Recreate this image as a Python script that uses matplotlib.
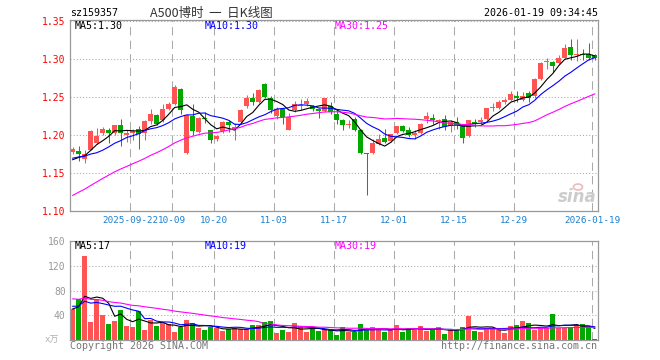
import numpy as np
import pandas as pd
import matplotlib
matplotlib.use('Agg')
import matplotlib.pyplot as plt
from matplotlib.patches import Ellipse

plt.rcParams['font.family'] = ['DejaVu Sans Mono', 'Noto Sans CJK SC']

# closes / volumes of the sessions before the first visible day (only seed the MAs)
pre_close = [1.050, 1.055, 1.060, 1.062, 1.068, 1.075, 1.082, 1.090, 1.105,
             1.098, 1.102, 1.108, 1.104, 1.112, 1.118, 1.115, 1.122, 1.128, 1.131,
             1.145, 1.158, 1.166, 1.178, 1.182, 1.175, 1.160, 1.165, 1.170, 1.162]
pre_vol = [85, 78, 92, 74, 80, 88, 72, 76, 81, 74, 70, 62, 68, 60, 72, 64, 66, 58, 67,
           63, 62, 58, 60, 55, 59, 48, 52, 46, 55]

# daily k-line, 2025-09-08 .. 2026-01-19
open_ = [1.178, 1.1795, 1.169, 1.1811, 1.190, 1.2035, 1.207, 1.2035, 1.2136, 1.2005,
         1.2035, 1.2079, 1.203, 1.2184, 1.2263, 1.2206, 1.235, 1.2417, 1.2614, 1.1768,
         1.2254, 1.2044, 1.2232, 1.2066, 1.1947, 1.2053, 1.2175, 1.2088, 1.2175, 1.239,
         1.2496, 1.2439, 1.268, 1.2496, 1.226, 1.2351, 1.2075, 1.2329, 1.2382, 1.2408,
         1.239, 1.2346, 1.232, 1.2382, 1.2276, 1.2206, 1.214, 1.2215, 1.2075, 1.1768,
         1.1768, 1.189, 1.1965, 1.1925, 1.2035, 1.2127, 1.2066, 1.2009, 1.2035, 1.2215,
         1.2228, 1.2184, 1.221, 1.2125, 1.2171, 1.2118, 1.1991, 1.2175, 1.2175, 1.221,
         1.2355, 1.2364, 1.2443, 1.246, 1.2522, 1.2469, 1.2557, 1.2513, 1.2737, 1.2961,
         1.2965, 1.2952, 1.3018, 1.3162, 1.3053, 1.3075, 1.3075, 1.3053]
high = [1.185, 1.1855, 1.180, 1.2066, 1.209, 1.211, 1.209, 1.2136, 1.221, 1.207,
        1.208, 1.2127, 1.2197, 1.234, 1.2285, 1.2408, 1.2439, 1.2658, 1.262, 1.2272,
        1.2408, 1.224, 1.2307, 1.2075, 1.2009, 1.2189, 1.2197, 1.2162, 1.2351, 1.2535,
        1.2557, 1.2614, 1.269, 1.2513, 1.237, 1.2364, 1.2294, 1.2452, 1.2474, 1.2491,
        1.2404, 1.2364, 1.2496, 1.2439, 1.2329, 1.2219, 1.2206, 1.2241, 1.2088, 1.1772,
        1.1956, 1.2022, 1.2079, 1.2022, 1.2127, 1.2132, 1.211, 1.2075, 1.2167, 1.2307,
        1.2276, 1.2215, 1.2263, 1.2195, 1.2237, 1.2127, 1.2206, 1.221, 1.2241, 1.2364,
        1.2425, 1.2461, 1.2496, 1.2579, 1.2579, 1.257, 1.2579, 1.2759, 1.2965, 1.3018,
        1.2974, 1.3062, 1.3197, 1.3263, 1.3263, 1.3132, 1.3215, 1.3075]
low = [1.176, 1.166, 1.164, 1.180, 1.189, 1.200, 1.190, 1.200, 1.1855, 1.1917,
       1.194, 1.1825, 1.194, 1.2153, 1.2132, 1.2175, 1.2338, 1.2395, 1.2285, 1.1759,
       1.200, 1.203, 1.2162, 1.190, 1.1925, 1.2035, 1.2044, 1.1943, 1.2153, 1.236,
       1.2395, 1.2425, 1.2496, 1.2294, 1.221, 1.2153, 1.2066, 1.2307, 1.2329, 1.2382,
       1.232, 1.2233, 1.2307, 1.2276, 1.2153, 1.2066, 1.2101, 1.2057, 1.1759, 1.1219,
       1.1759, 1.1868, 1.1899, 1.1912, 1.2022, 1.2044, 1.1978, 1.1947, 1.2022, 1.2162,
       1.2145, 1.2083, 1.2066, 1.2045, 1.2088, 1.1899, 1.1978, 1.211, 1.2153, 1.2197,
       1.232, 1.2351, 1.2417, 1.2452, 1.2439, 1.2452, 1.2439, 1.2496, 1.2724, 1.2877,
       1.2833, 1.2943, 1.3009, 1.2996, 1.2974, 1.2987, 1.2987, 1.2996]
close = [1.1825, 1.1748, 1.176, 1.2057, 1.1996, 1.2083, 1.2035, 1.2136, 1.2035, 1.2035,
         1.2057, 1.2013, 1.2184, 1.2285, 1.2145, 1.235, 1.2417, 1.2636, 1.2338, 1.2263,
         1.2057, 1.2228, 1.2215, 1.1934, 1.1991, 1.2175, 1.2132, 1.211, 1.2329, 1.2491,
         1.2439, 1.2601, 1.2505, 1.2338, 1.234, 1.2241, 1.2241, 1.2417, 1.2399, 1.2447,
         1.2346, 1.232, 1.2491, 1.2307, 1.2206, 1.2132, 1.2154, 1.2075, 1.1768, 1.1759,
         1.19, 1.1952, 1.1912, 1.2013, 1.2127, 1.2057, 1.2009, 1.2031, 1.2153, 1.225,
         1.2197, 1.2206, 1.211, 1.218, 1.214, 1.1965, 1.2197, 1.2145, 1.2197, 1.236,
         1.2364, 1.2439, 1.2469, 1.2548, 1.2491, 1.2513, 1.2496, 1.2737, 1.2952, 1.297,
         1.2908, 1.3018, 1.3149, 1.3053, 1.3062, 1.3062, 1.3018, 1.3018]
volume = [49.6, 66.7, 136, 28.8, 66, 40, 25.6, 31, 48, 22.4,
          20.8, 46.4, 16, 32, 22.4, 26.7, 25.6, 13.3, 20.3, 32,
          27.2, 19.7, 16, 21.3, 19.2, 14.4, 17.6, 18.7, 18, 18,
          24, 23.5, 28.3, 30.4, 11.2, 16, 13.3, 27.2, 20.3, 13.3,
          18.7, 14.4, 17, 16, 8, 20.8, 12.8, 12.8, 25.6, 16.5,
          20.8, 16.5, 12.8, 16.5, 24, 12.8, 19.2, 16.5, 22.4, 14.4,
          16.5, 20.8, 9.6, 16.5, 16.5, 20.8, 39, 14.4, 12.8, 19.2,
          19.2, 16.5, 11.2, 22.4, 24, 30.4, 27.2, 16.5, 19.2, 19.2,
          41.6, 19.2, 19.2, 20.8, 24, 25.6, 22.4, 1.6]

date_idx = [10, 17, 24, 34, 44, 54, 64, 74, 87]
date_labels = ['2025-09-22', '10-09', '10-20', '11-03', '11-17',
               '12-01', '12-15', '12-29', '2026-01-19']
price_ticks = [1.10, 1.15, 1.20, 1.25, 1.30, 1.35]
vol_ticks = [40, 80, 120, 160]

RED, GREEN = '#ff5454', '#00a800'
MA_COLORS = {5: '#000000', 10: '#0000ff', 30: '#ff00ff'}
GRIDC = '#aaaaaa'

W, H = 660, 360


def box(l, t, r, b):
    return [l / W, 1 - b / H, (r - l) / W, (b - t) / H]


def ftext(x, y, s, **kw):
    fig.text(x / W, 1 - y / H, s, va='center', **kw)


o, h, l, c = map(np.array, (open_, high, low, close))
v = np.array(volume)
x = np.arange(len(c))
cols = np.where(c >= o, RED, GREEN)

cs = pd.Series(pre_close + close)
vs = pd.Series(pre_vol + volume)
n_pre = len(pre_close)

fig = plt.figure(figsize=(6.6, 3.6), dpi=100)
ax = fig.add_axes(box(70, 20, 597.5, 211.3))
axv = fig.add_axes(box(70, 240.7, 597.5, 340))

# price panel
ax.vlines(x, l, h, colors=cols, lw=0.75, zorder=2)
ax.bar(x, np.maximum(np.abs(c - o), 0.0012), bottom=np.minimum(o, c),
       width=0.8, color=cols, linewidth=0, zorder=2)
for n, col in MA_COLORS.items():
    ax.plot(x, cs.rolling(n).mean().values[n_pre:], color=col, lw=0.8, zorder=3)

# volume panel
axv.bar(x, v, width=0.8, color=cols, linewidth=0, zorder=2)
for n, col in MA_COLORS.items():
    axv.plot(x, vs.rolling(n).mean().values[n_pre:], color=col, lw=0.8, zorder=3)

for a in (ax, axv):
    a.set_xlim(-0.45, 87.45)
    a.set_xticks(np.array(date_idx) - 0.4)
    a.tick_params(length=0)
    a.grid(axis='x', color=GRIDC, lw=0.75, ls=(0, (8, 5)))
    a.grid(axis='y', color=GRIDC, lw=0.75, ls=(0, (1, 2)))
    a.set_axisbelow(True)
    for s in a.spines.values():
        s.set_color('#999999')
        s.set_linewidth(0.9)

ax.set_ylim(1.10, 1.3517)
ax.set_yticks(price_ticks)
ax.set_yticklabels(['%.2f' % t for t in price_ticks], color='#ff0000', fontsize=7)
ax.tick_params(axis='y', pad=3.1)
ax.set_xticklabels(date_labels, color='#1a80d0', fontsize=6.7)
ax.tick_params(axis='x', pad=3.6)

axv.set_ylim(0, 160.5)
axv.set_yticks(vol_ticks)
axv.set_yticklabels([str(t) for t in vol_ticks], color='#999999', fontsize=7)
axv.tick_params(axis='y', pad=3.1)
axv.set_xticklabels([])
axv.text(-0.02, 0.0, 'x万', transform=axv.transAxes, ha='right', va='center',
         color='#b0b0b0', fontsize=6.5)

# header
ftext(70, 13.3, 'sz159357', fontsize=7.2, color='#000000')
ftext(150, 13.0, 'A500博时  一  日K线图', fontsize=9, color='#333333',
      family=['Noto Sans CJK SC', 'DejaVu Sans'])
ftext(597.5, 13.3, '2026-01-19 09:34:45', fontsize=7.2, color='#000000', ha='right')

# MA captions
ftext(75, 26, 'MA5:1.30', fontsize=7.2, color=MA_COLORS[5])
ftext(205, 26, 'MA10:1.30', fontsize=7.2, color=MA_COLORS[10])
ftext(335, 26, 'MA30:1.25', fontsize=7.2, color=MA_COLORS[30])
ftext(75, 246, 'MA5:17', fontsize=7.2, color=MA_COLORS[5])
ftext(205, 246, 'MA10:19', fontsize=7.2, color=MA_COLORS[10])
ftext(335, 246, 'MA30:19', fontsize=7.2, color=MA_COLORS[30])

# footer
ftext(70, 346, 'Copyright 2026 SINA.COM', fontsize=7.2, color='#777777')
ftext(597.5, 346, 'http://finance.sina.com.cn', fontsize=7.2, color='#777777', ha='right')

# sina watermark
ftext(597, 197, 'sina', fontsize=12, color='#cccccc', ha='right',
      family='DejaVu Sans', fontweight='bold', fontstyle='italic')
fig.patches.append(Ellipse((578 / W, 1 - 187 / H), 9 / W, 6 / H, transform=fig.transFigure,
                           facecolor='none', edgecolor='#f2b8b8', lw=1.2))

fig.savefig('out.png', dpi=100)
